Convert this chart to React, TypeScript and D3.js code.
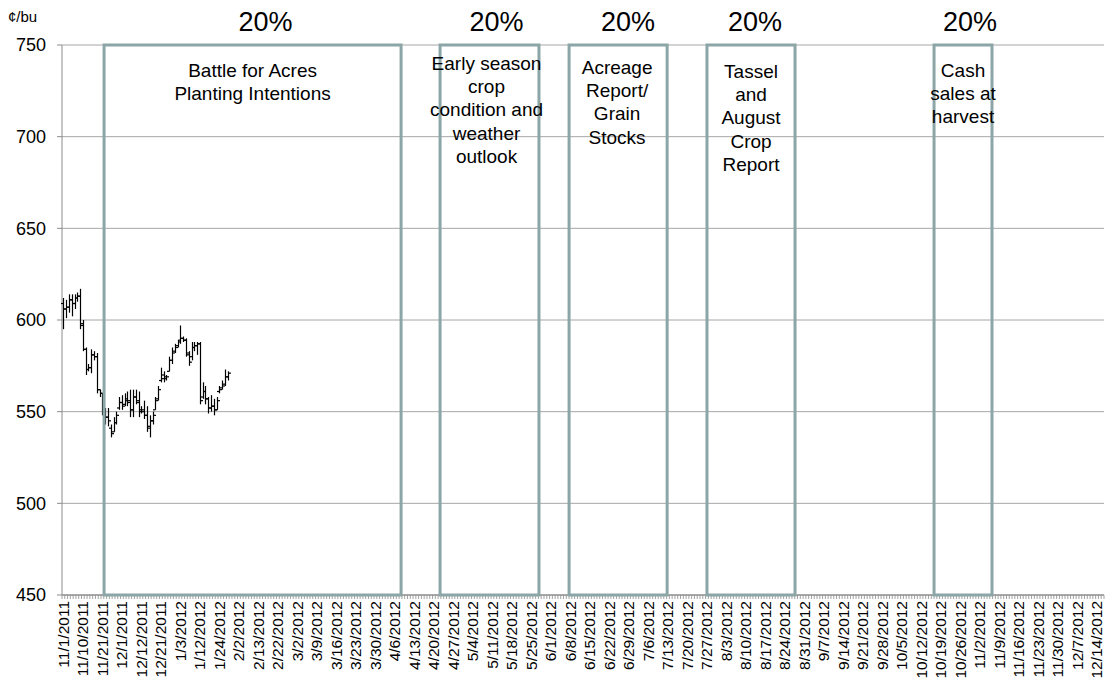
import React from "react";
import * as d3 from "d3";

// ---- Data ----
const tickLabels: string[] = [
  "11/1/2011", "11/10/2011", "11/21/2011", "12/1/2011", "12/12/2011", "12/21/2011",
  "1/3/2012", "1/12/2012", "1/24/2012", "2/2/2012", "2/13/2012", "2/22/2012",
  "3/2/2012", "3/9/2012", "3/16/2012", "3/23/2012", "3/30/2012", "4/6/2012",
  "4/13/2012", "4/20/2012", "4/27/2012", "5/4/2012", "5/11/2012", "5/18/2012",
  "5/25/2012", "6/1/2012", "6/8/2012", "6/15/2012", "6/22/2012", "6/29/2012",
  "7/6/2012", "7/13/2012", "7/20/2012", "7/27/2012", "8/3/2012", "8/10/2012",
  "8/17/2012", "8/24/2012", "8/31/2012", "9/7/2012", "9/14/2012", "9/21/2012",
  "9/28/2012", "10/5/2012", "10/12/2012", "10/19/2012", "10/26/2012", "11/2/2012",
  "11/9/2012", "11/16/2012", "11/23/2012", "11/30/2012", "12/7/2012", "12/14/2012",
];
const labelEvery = 7; // categories between tick labels
const categoryCount = 374;

// OHLC price bars (¢/bu), one per trading day from 11/1/2011
const opens: number[] = [
  609, 606, 607, 611, 609, 612, 613, 598, 584, 573, 574, 581, 580, 562, 560, 550, 547, 541, 539, 544,
  552, 555, 554, 556, 556, 551, 558, 556, 551, 550, 548, 542, 545, 551, 557, 567, 568, 568, 572, 578,
  583, 586, 589, 590, 589, 581, 580, 585, 586, 587, 558, 561, 557, 552, 553, 551, 561, 563, 565, 569,
];
const highs: number[] = [
  612, 611, 614, 614, 614, 615, 617, 600, 585, 576, 584, 583, 582, 562, 560, 552, 552, 543, 547, 550,
  558, 559, 560, 561, 562, 562, 562, 561, 553, 556, 553, 548, 550, 558, 564, 574, 572, 570, 580, 585,
  587, 589, 597, 591, 590, 583, 588, 588, 588, 588, 566, 564, 558, 559, 557, 558, 564, 567, 573, 572,
];
const lows: number[] = [
  595, 601, 604, 602, 606, 610, 595, 583, 570, 572, 571, 578, 560, 558, 548, 543, 542, 536, 539, 543,
  551, 551, 553, 553, 547, 547, 554, 547, 549, 546, 539, 536, 543, 551, 556, 566, 566, 567, 572, 576,
  582, 585, 587, 588, 580, 575, 578, 583, 581, 554, 557, 554, 549, 550, 548, 551, 560, 562, 564, 567,
];
const closes: number[] = [
  606, 607, 611, 609, 612, 613, 597, 584, 573, 574, 581, 580, 562, 560, 550, 547, 545, 538, 544, 548,
  555, 553, 557, 555, 551, 558, 555, 550, 551, 548, 541, 545, 548, 556, 562, 570, 569, 569, 578, 582,
  585, 588, 590, 589, 582, 577, 585, 586, 587, 556, 561, 557, 552, 553, 551, 556, 562, 564, 569, 571,
];

const yTicks: number[] = [450, 500, 550, 600, 650, 700, 750];

// Marketing-window annotations (category index span)
const windowStarts: number[] = [15.1, 135.7, 182.0, 231.5, 313.0];
const windowEnds: number[] = [121.7, 171.2, 217.2, 263.1, 333.8];
const windowShares: string[] = ["20%", "20%", "20%", "20%", "20%"];
const windowTexts: string[][] = [
  ["Battle for Acres", "Planting Intentions"],
  ["Early season", "crop", "condition and", "weather", "outlook"],
  ["Acreage", "Report/", "Grain", "Stocks"],
  ["Tassel", "and", "August", "Crop", "Report"],
  ["Cash", "sales at", "harvest"],
];

// ---- Layout / style ----
const W = 1106;
const H = 685;
const left = 62;
const right = 1104;
const top = 45;
const bottom = 595;
const FONT = "'Liberation Sans', Arial, Helvetica, sans-serif";
const boxColor = "#8ca6a8";
const gridColor = "#a6a6a6";
const axisColor = "#8c8c8c";
const shareDx = [13, 7, 10, 4, 7];
const textDx = [0, -3, -1, 0, 0];
const textTopY = [70, 63, 67, 71, 70];

export default function App() {
  const x = d3
    .scaleBand<number>()
    .domain(d3.range(categoryCount))
    .range([left, right])
    .paddingInner(0)
    .paddingOuter(0);
  const bw = x.bandwidth();
  const cx = (i: number) => (x(i) as number) + bw / 2;
  const xi = (v: number) => left + v * bw; // fractional category boundary
  const y = d3.scaleLinear().domain([450, 750]).range([bottom, top]);

  const bars = opens.map((o, i) => ({ o, h: highs[i], l: lows[i], c: closes[i], i }));

  return (
    <svg
      width={W}
      height={H}
      style={{ position: "absolute", left: 0, top: 0, background: "#fff" }}
      fontFamily={FONT}
    >
      <rect x={0} y={0} width={W} height={H} fill="#fff" />
      {/* gridlines */}
      {yTicks.filter((t) => t !== 450).map((t) => (
        <line key={"g" + t} x1={left} x2={right} y1={y(t)} y2={y(t)} stroke={gridColor} strokeWidth={1} />
      ))}
      {/* y axis */}
      <line x1={left} x2={left} y1={top} y2={bottom} stroke={axisColor} strokeWidth={1} />
      {yTicks.map((t) => (
        <g key={"yt" + t}>
          <line x1={left - 5} x2={left} y1={y(t)} y2={y(t)} stroke={axisColor} />
          <text x={46} y={y(t)} dy="0.35em" textAnchor="end" fontSize={18} fill="#000">
            {t}
          </text>
        </g>
      ))}
      <text x={8} y={17} dy="0.35em" fontSize={15} fill="#000">¢/bu</text>

      {/* x axis minor ticks */}
      {d3.range(categoryCount + 1).map((i) => (
        <line
          key={"xt" + i}
          x1={left + i * bw}
          x2={left + i * bw}
          y1={bottom}
          y2={bottom + 4}
          stroke={axisColor}
          strokeWidth={0.8}
        />
      ))}
      <line x1={left} x2={right} y1={bottom} y2={bottom} stroke={axisColor} strokeWidth={1.5} />
      {tickLabels.map((lab, k) => (
        <text
          key={"xl" + k}
          transform={`translate(${cx(k * labelEvery)},${bottom + 6}) rotate(-90)`}
          textAnchor="end"
          dy="0.35em"
          fontSize={15.5}
          fill="#000"
        >
          {lab}
        </text>
      ))}

      {/* OHLC bars */}
      {bars.map((b) => {
        const xc = Math.round(cx(b.i)) + 0.5;
        return (
          <g key={"b" + b.i} stroke="#000" strokeWidth={1.2}>
            <line x1={xc} x2={xc} y1={y(b.h)} y2={y(b.l)} />
            <line x1={xc - 2.5} x2={xc} y1={y(b.o)} y2={y(b.o)} />
            <line x1={xc} x2={xc + 2.5} y1={y(b.c)} y2={y(b.c)} />
          </g>
        );
      })}

      {/* marketing windows */}
      {windowStarts.map((s, k) => {
        const x0 = xi(s);
        const x1 = xi(windowEnds[k]);
        const mid = (x0 + x1) / 2;
        return (
          <g key={"w" + k}>
            <rect
              x={x0}
              y={y(750)}
              width={x1 - x0}
              height={y(450) - y(750)}
              fill="none"
              stroke={boxColor}
              strokeWidth={3}
            />
            <text x={mid + shareDx[k]} y={22} dy="0.35em" textAnchor="middle" fontSize={27} fill="#000">
              {windowShares[k]}
            </text>
            {windowTexts[k].map((t, j) => (
              <text
                key={j}
                x={mid + textDx[k]}
                y={textTopY[k] + j * 23.4}
                dy="0.35em"
                textAnchor="middle"
                fontSize={19}
                fill="#000"
              >
                {t}
              </text>
            ))}
          </g>
        );
      })}
    </svg>
  );
}
